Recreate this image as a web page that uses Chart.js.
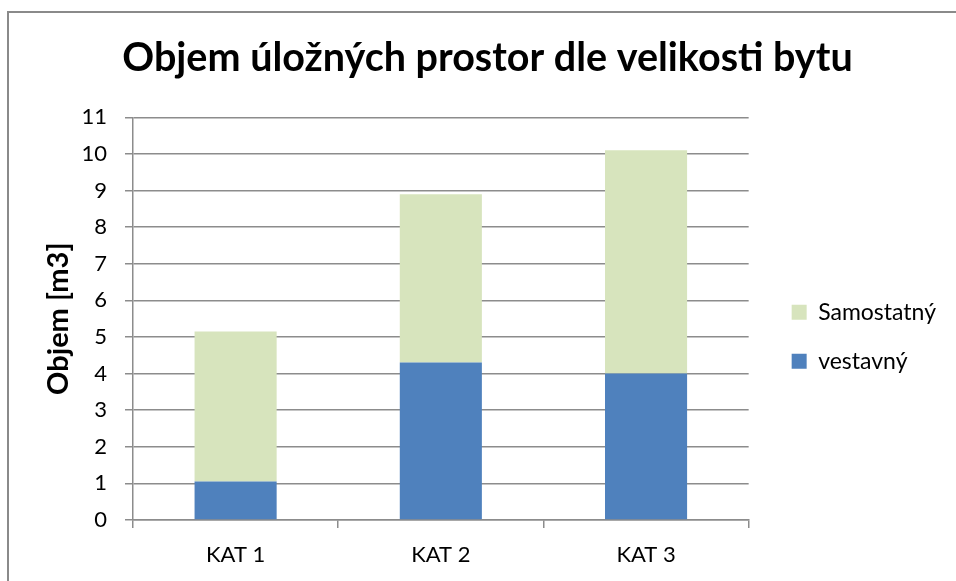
<!DOCTYPE html>
<html>
<head>
<meta charset="utf-8">
<script src="https://cdn.jsdelivr.net/npm/chart.js@4.4.0/dist/chart.umd.min.js"></script>
<style>
  html, body { margin: 0; padding: 0; background: #fff; overflow: hidden; }
  #frame { position: absolute; left: 7px; top: 11px; width: 1000px; height: 1000px;
           border-left: 2px solid #8a8a8a; border-top: 2px solid #8a8a8a; }
  #wrap { position: absolute; left: 0; top: 0; width: 956px; height: 581px; }
</style>
</head>
<body>
<div id="frame"></div>
<div id="wrap"><canvas id="myChart"></canvas></div>
<script>
var categories = ["KAT 1", "KAT 2", "KAT 3"];
var vestavny = [1.05, 4.3, 4.0];
var samostatny = [4.1, 4.6, 6.1];
var yTicks = [0, 1, 2, 3, 4, 5, 6, 7, 8, 9, 10, 11];

var gridGrey = '#8c8c8c';
var fontName = 'Lato, "Open Sans", sans-serif';

new Chart(document.getElementById("myChart").getContext("2d"), {
    type: 'bar',
    data: {
        labels: categories,
        datasets: [{
            label: "vestavný",
            data: vestavny,
            backgroundColor: "#4f81bd",
            barPercentage: 0.4,
            categoryPercentage: 1
        }, {
            label: "Samostatný",
            data: samostatny,
            backgroundColor: "#d7e4bd",
            barPercentage: 0.4,
            categoryPercentage: 1
        }]
    },
    options: {
        responsive: true,
        maintainAspectRatio: false,
        animation: false,
        layout: {
            padding: { left: 29, right: 10, top: 0, bottom: 0 }
        },
        plugins: {
            title: {
                display: true,
                text: "Objem úložných prostor dle velikosti bytu",
                color: '#000',
                font: { family: fontName, size: 39.5, weight: 'bold' },
                padding: { top: 35, bottom: 35 }
            },
            legend: {
                position: 'right',
                fullSize: false,
                reverse: true,
                maxWidth: 260,
                title: {
                    display: true,
                    text: ' ',
                    font: { size: 10 },
                    padding: { top: 24, bottom: 0 }
                },
                labels: {
                    color: '#000',
                    boxWidth: 15,
                    boxHeight: 15,
                    padding: 26,
                    font: { family: fontName, size: 23 }
                }
            },
            tooltip: { enabled: false }
        },
        scales: {
            x: {
                stacked: true,
                afterFit: function(scale) {
                    scale.height = 61;
                },
                grid: {
                    drawOnChartArea: false,
                    drawTicks: true,
                    tickLength: 8,
                    color: gridGrey,
                    lineWidth: 1.5
                },
                border: { display: true, color: gridGrey, width: 1.5 },
                ticks: {
                    color: '#000',
                    padding: 14,
                    font: { family: fontName, size: 22 }
                }
            },
            y: {
                stacked: true,
                min: 0,
                max: 11,
                afterBuildTicks: function(scale) {
                    scale.ticks = yTicks.map(function(v) { return { value: v }; });
                },
                afterFit: function(scale) {
                    scale.width = 104;
                },
                grid: {
                    color: gridGrey,
                    lineWidth: 1.5,
                    tickLength: 8
                },
                border: { display: true, color: gridGrey, width: 1.5 },
                ticks: {
                    color: '#000',
                    padding: 18,
                    font: { family: fontName, size: 22 }
                },
                title: {
                    display: true,
                    text: "Objem [m3]",
                    color: '#000',
                    font: { family: fontName, size: 29, weight: 'bold' },
                    padding: { top: 12, bottom: 0 }
                }
            },
            // empty spacer between the plot and the legend
            gap: {
                type: 'linear',
                position: 'right',
                display: true,
                grid: { display: false, drawTicks: false },
                border: { display: false },
                ticks: { display: false },
                afterFit: function(scale) {
                    scale.width = 17;
                }
            }
        }
    }
});
</script>
</body>
</html>
